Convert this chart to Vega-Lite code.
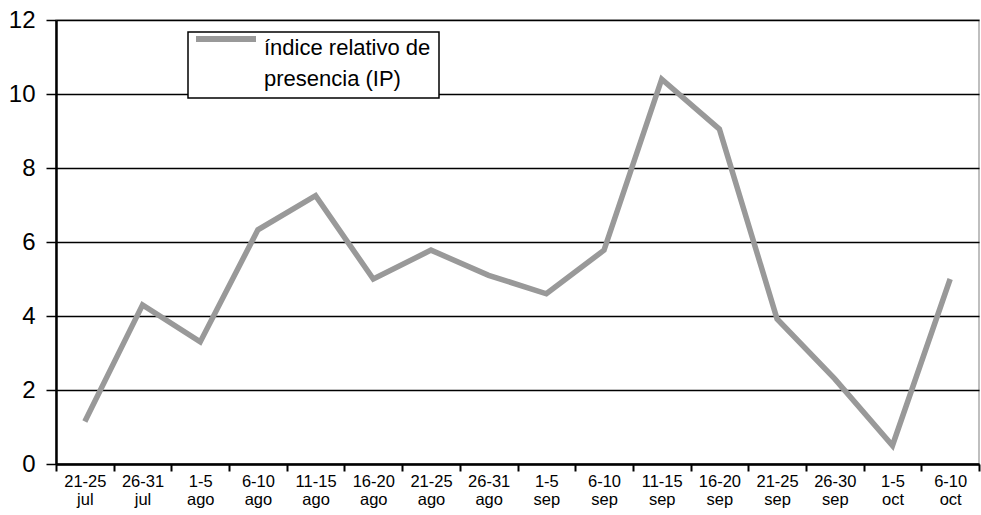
{
  "$schema": "https://vega.github.io/schema/vega-lite/v6.json",
  "autosize": "none",
  "width": 923,
  "height": 444,
  "padding": {"left": 56, "top": 20, "right": 2, "bottom": 51},
  "background": "white",
  "config": {
    "font": "Liberation Sans",
    "view": {"stroke": "#aaaaaa", "strokeWidth": 1.5}
  },
  "data": {
    "values": [
      {"periodo": "21-25 jul", "ip": 1.15, "serie": "IP"},
      {"periodo": "26-31 jul", "ip": 4.3, "serie": "IP"},
      {"periodo": "1-5 ago", "ip": 3.3, "serie": "IP"},
      {"periodo": "6-10 ago", "ip": 6.33, "serie": "IP"},
      {"periodo": "11-15 ago", "ip": 7.25, "serie": "IP"},
      {"periodo": "16-20 ago", "ip": 5.0, "serie": "IP"},
      {"periodo": "21-25 ago", "ip": 5.78, "serie": "IP"},
      {"periodo": "26-31 ago", "ip": 5.1, "serie": "IP"},
      {"periodo": "1-5 sep", "ip": 4.6, "serie": "IP"},
      {"periodo": "6-10 sep", "ip": 5.78, "serie": "IP"},
      {"periodo": "11-15 sep", "ip": 10.4, "serie": "IP"},
      {"periodo": "16-20 sep", "ip": 9.05, "serie": "IP"},
      {"periodo": "21-25 sep", "ip": 3.92, "serie": "IP"},
      {"periodo": "26-30 sep", "ip": 2.3, "serie": "IP"},
      {"periodo": "1-5 oct", "ip": 0.5, "serie": "IP"},
      {"periodo": "6-10 oct", "ip": 5.0, "serie": "IP"}
    ]
  },
  "mark": {"type": "line", "strokeWidth": 5.5, "strokeJoin": "miter", "strokeCap": "butt"},
  "encoding": {
    "x": {
      "field": "periodo",
      "type": "ordinal",
      "sort": null,
      "bandPosition": 0.5,
      "scale": {"type": "band", "paddingInner": 0, "paddingOuter": 0},
      "axis": {
        "title": null,
        "labelAngle": 0,
        "labelExpr": "split(datum.label, ' ')",
        "labelFontSize": 16.5,
        "labelLineHeight": 18,
        "labelColor": "black",
        "labelPadding": 2,
        "tickBand": "extent",
        "tickColor": "black",
        "tickWidth": 2,
        "tickSize": 7,
        "domainColor": "black",
        "domainWidth": 2.5,
        "grid": false
      }
    },
    "y": {
      "field": "ip",
      "type": "quantitative",
      "scale": {"domain": [0, 12], "nice": false},
      "axis": {
        "title": null,
        "values": [0, 2, 4, 6, 8, 10, 12],
        "labelFontSize": 24,
        "labelColor": "black",
        "labelPadding": 11,
        "tickColor": "black",
        "tickWidth": 1.5,
        "tickSize": 10,
        "domainColor": "black",
        "domainWidth": 2.5,
        "grid": true,
        "gridColor": "black",
        "gridWidth": 1.5,
        "gridOpacity": 1
      }
    },
    "color": {
      "field": "serie",
      "type": "nominal",
      "scale": {"range": ["#999999"]},
      "legend": {
        "title": null,
        "orient": "none",
        "legendX": 132,
        "legendY": 12,
        "strokeColor": "black",
        "fillColor": "white",
        "padding": 8,
        "symbolType": "stroke",
        "symbolSize": 3600,
        "symbolStrokeWidth": 6,
        "symbolOffset": -3,
        "labelExpr": "['índice relativo de', 'presencia  (IP)']",
        "labelFontSize": 22,
        "labelLimit": 300,
        "labelColor": "black",
        "labelBaseline": "top",
        "labelOffset": 5,
        "encode": {
          "legend": {"update": {"strokeWidth": {"value": 1.5}}},
          "symbols": {"update": {"y": {"value": -1}}},
          "labels": {"update": {"y": {"value": -2}, "lineHeight": {"value": 31}}}
        }
      }
    }
  }
}
